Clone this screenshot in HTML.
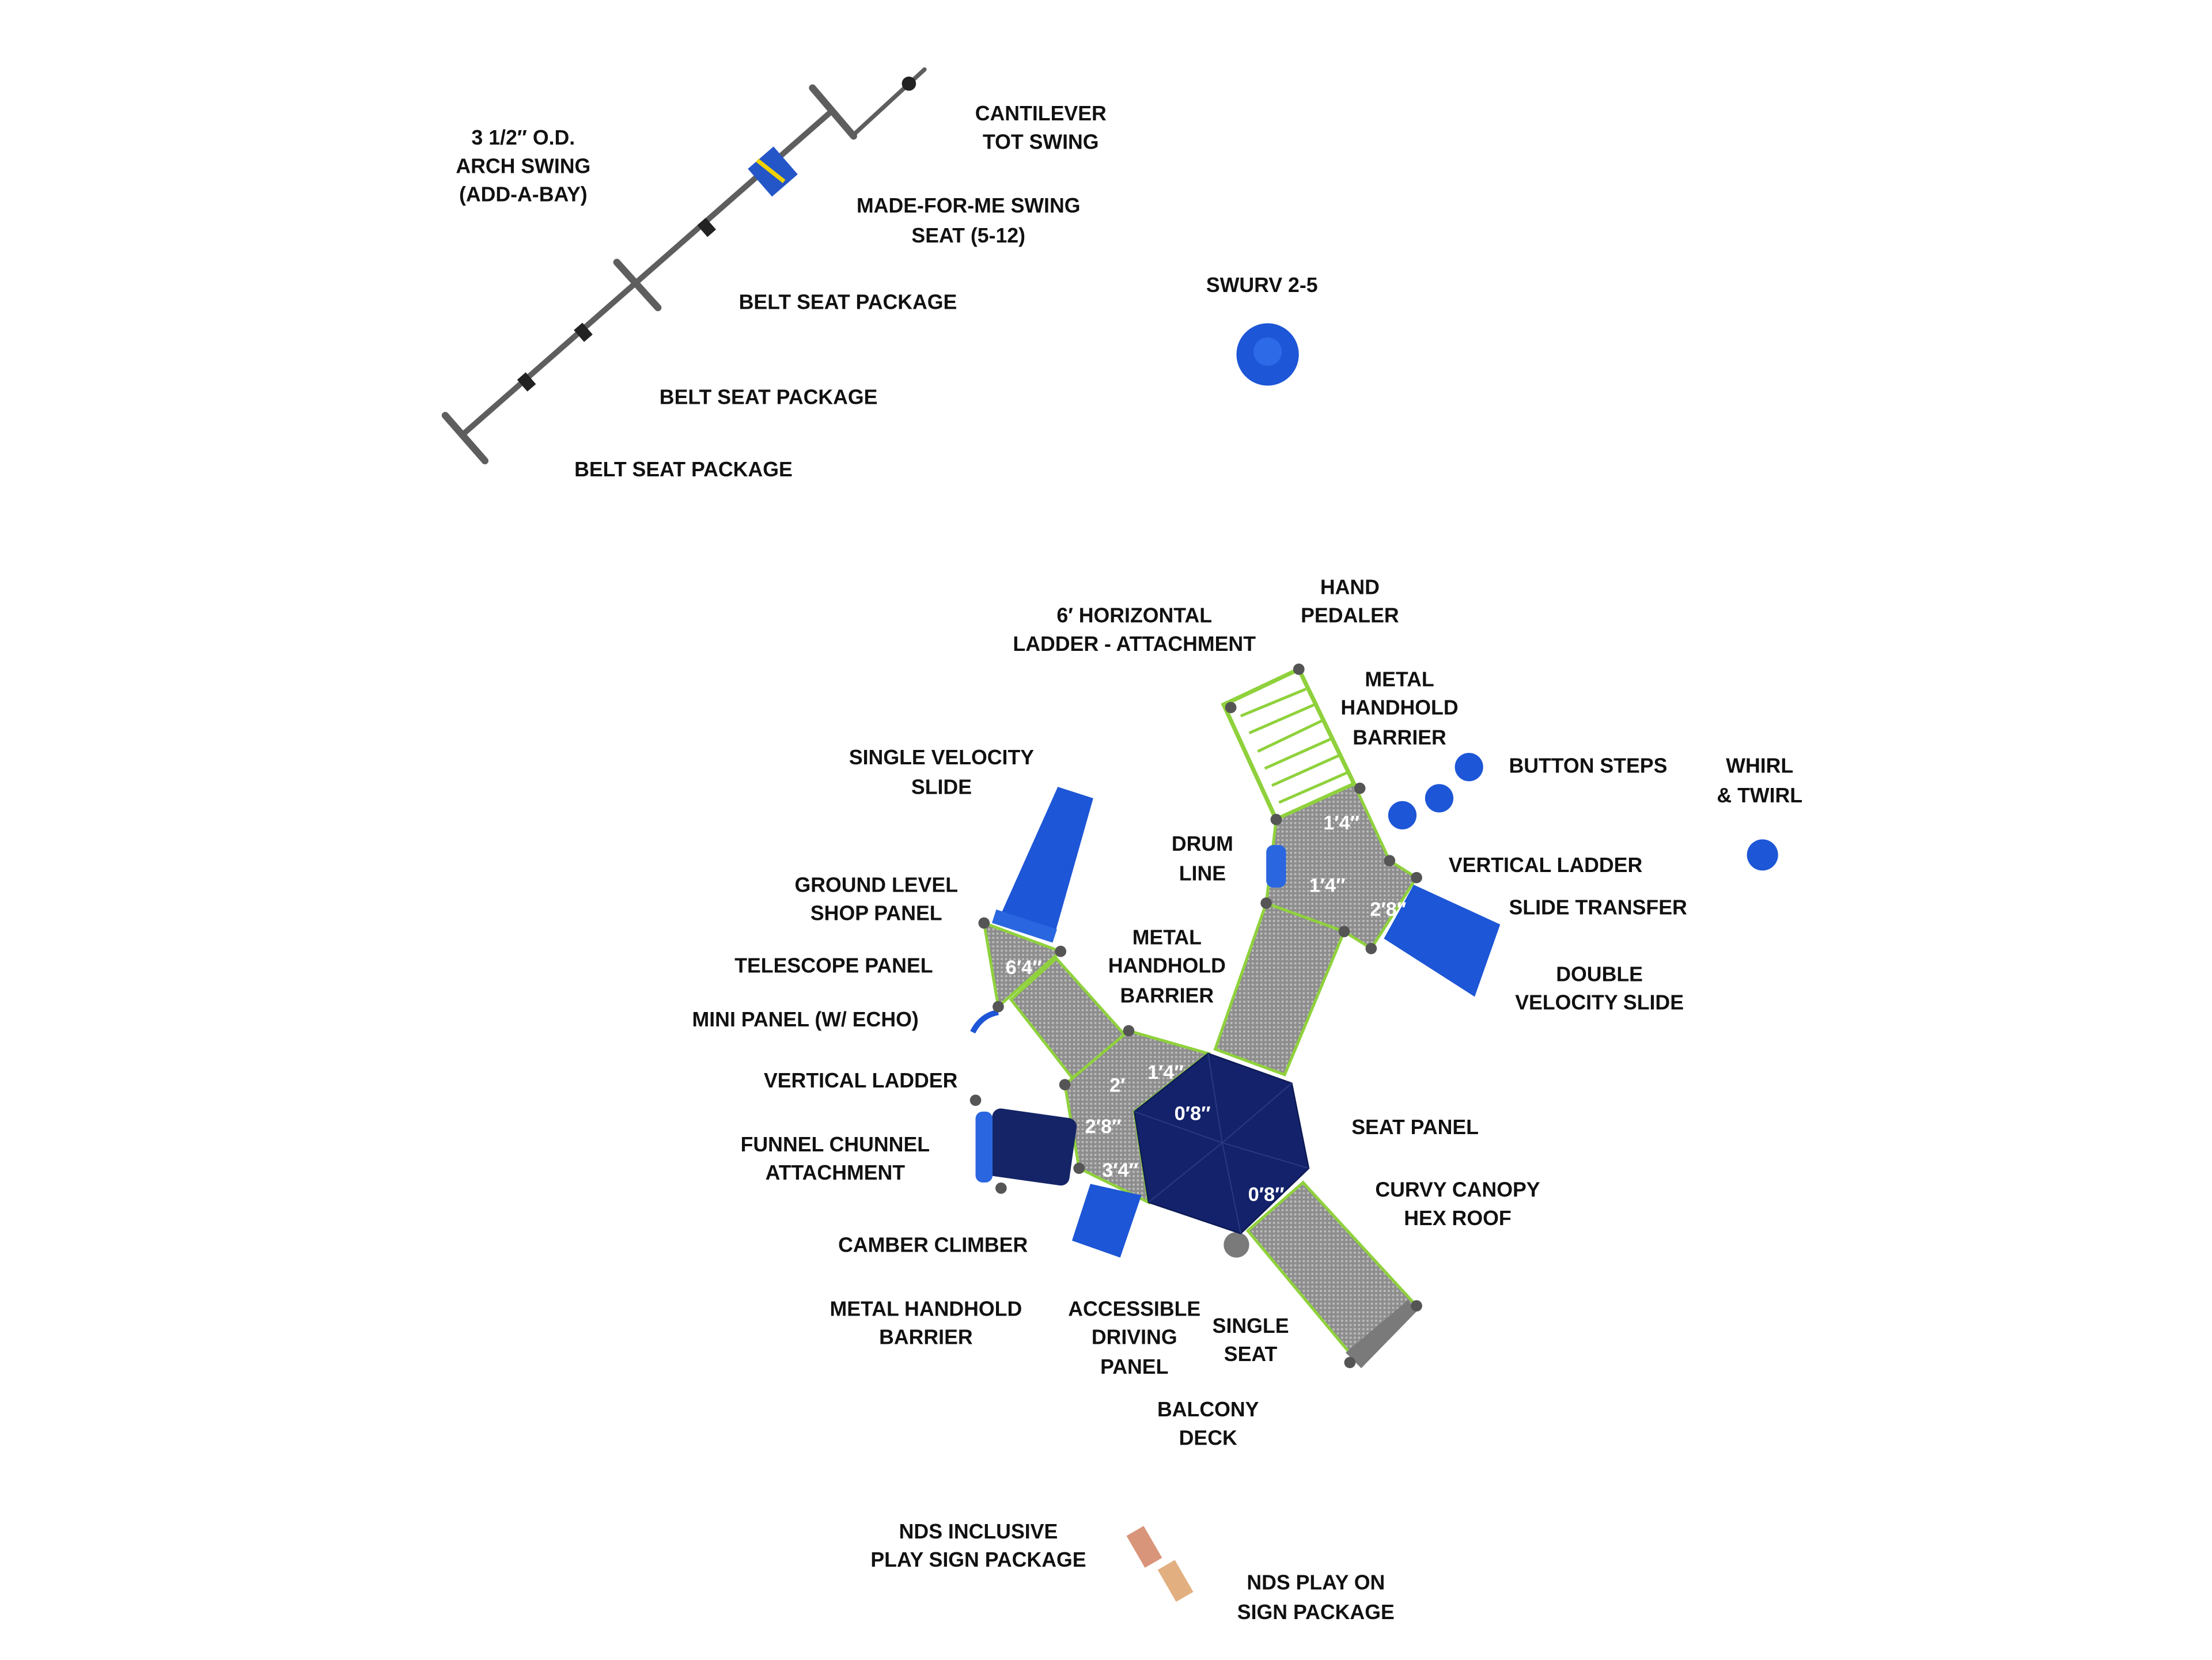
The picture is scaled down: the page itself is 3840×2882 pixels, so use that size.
<!DOCTYPE html>
<html><head><meta charset="utf-8"><style>
html,body{margin:0;padding:0;background:#fff;}
svg{display:block;}
text{font-family:"Liberation Sans",sans-serif;font-weight:bold;font-size:14.5px;fill:#111;text-anchor:middle;}
.w{fill:#fff;font-size:14px;}
</style></head><body>
<svg width="3840" height="2882" viewBox="0 0 1560 1170.8" preserveAspectRatio="none" xmlns="http://www.w3.org/2000/svg">
<defs>
<pattern id="mesh" width="3" height="3" patternUnits="userSpaceOnUse"><rect width="3" height="3" fill="#8d8d8d"/><circle cx="1.5" cy="1.5" r="0.8" fill="#bdbdbd"/></pattern>
</defs>
<!-- swing -->
<g stroke="#5e5e5e" stroke-linecap="round" fill="none">
<line x1="328" y1="305" x2="587" y2="78" stroke-width="4"/>
<line x1="314" y1="293" x2="342" y2="325" stroke-width="5"/>
<line x1="435" y1="185" x2="464" y2="217" stroke-width="5"/>
<line x1="573" y1="62" x2="602" y2="96" stroke-width="5"/>
<line x1="602" y1="95" x2="652" y2="49" stroke-width="3"/>
</g>
<circle cx="641" cy="59" r="5" fill="#222"/>
<g fill="#222"><rect x="367" y="264" width="8" height="11" transform="rotate(-41 371 269)"/><rect x="407" y="229" width="8" height="11" transform="rotate(-41 411 234)"/><rect x="494" y="155" width="8" height="11" transform="rotate(-41 498 160)"/></g>
<rect x="533" y="108" width="24" height="26" fill="#2456c8" transform="rotate(-41 545 121)"/>
<path d="M534 113 L553 128" stroke="#f1d000" stroke-width="3"/>
<!-- swurv, whirl, buttons -->
<circle cx="894" cy="250" r="22" fill="#1d56d6"/><circle cx="894" cy="248" r="10" fill="#2c6ae8"/>
<circle cx="1243" cy="603" r="11" fill="#1d56d6"/>
<circle cx="1036" cy="541" r="10" fill="#1d56d6"/><circle cx="1015" cy="563" r="10" fill="#1d56d6"/><circle cx="989" cy="575" r="10" fill="#1d56d6"/>
<!-- ladder -->
<polygon points="863,497 916,472 955,553 900,578" fill="none" stroke="#8fd13c" stroke-width="3"/>
<g stroke="#8fd13c" stroke-width="2"><line x1="875" y1="505" x2="921" y2="486"/><line x1="881" y1="517" x2="927" y2="497"/><line x1="887" y1="530" x2="933" y2="508"/><line x1="892" y1="542" x2="939" y2="521"/><line x1="897" y1="554" x2="944" y2="533"/><line x1="902" y1="566" x2="950" y2="545"/></g>
<!-- walkways -->
<polygon points="893,637 948,657 906,758 857,740" fill="url(#mesh)" stroke="#8fd13c" stroke-width="2"/>
<polygon points="919,834 999,921 955,958 880,868" fill="url(#mesh)" stroke="#8fd13c" stroke-width="2"/>
<polygon points="993,917 999,925 960,965 949,954" fill="#7a7a7a"/>
<polygon points="713,705 745,676 796,733 756,760" fill="url(#mesh)" stroke="#8fd13c" stroke-width="2"/>
<!-- decks -->
<polygon points="900,578 955,553 980,607 999,619 967,669 948,657 893,637" fill="url(#mesh)" stroke="#8fd13c" stroke-width="2"/>
<polygon points="694,651 748,671 704,710" fill="url(#mesh)" stroke="#8fd13c" stroke-width="2"/>
<polygon points="751,765 796,727 852,743 800,784 810,848 761,824" fill="url(#mesh)" stroke="#8fd13c" stroke-width="2"/>
<!-- slides -->
<polygon points="704,649 743,662 771,563 746,555" fill="#1d56d6"/>
<rect x="700" y="648" width="45" height="10" fill="#2a66e0" transform="rotate(18 722 653)"/>
<polygon points="976,662 997,624 1058,652 1040,703" fill="#1d56d6"/>
<rect x="697" y="785" width="60" height="48" rx="6" fill="#142466" transform="rotate(8 727 809)"/>
<rect x="688" y="784" width="12" height="50" rx="5" fill="#2a66e0"/>
<polygon points="756,875 769,835 805,843 790,887" fill="#1d56d6"/>
<path d="M686 728 Q692 716 704 714" stroke="#1d56d6" stroke-width="4" fill="none"/>
<rect x="893" y="596" width="14" height="30" rx="5" fill="#2a66e0"/>
<circle cx="872" cy="878" r="9" fill="#7a7a7a"/>
<!-- hex roof -->
<polygon points="852,743 911,764 923,824 875,870 810,848 800,784" fill="#13226a" stroke="#0e1a55"/>
<g stroke="#2a3a80" stroke-width="0.8"><line x1="862" y1="806" x2="852" y2="743"/><line x1="862" y1="806" x2="911" y2="764"/><line x1="862" y1="806" x2="923" y2="824"/><line x1="862" y1="806" x2="875" y2="870"/><line x1="862" y1="806" x2="810" y2="848"/><line x1="862" y1="806" x2="800" y2="784"/></g>
<!-- posts -->
<g fill="#555"><circle cx="868" cy="499" r="4"/><circle cx="916" cy="472" r="4"/><circle cx="959" cy="556" r="4"/><circle cx="900" cy="578" r="4"/><circle cx="980" cy="607" r="4"/><circle cx="999" cy="619" r="4"/><circle cx="967" cy="669" r="4"/><circle cx="948" cy="657" r="4"/><circle cx="893" cy="637" r="4"/><circle cx="694" cy="651" r="4"/><circle cx="748" cy="671" r="4"/><circle cx="704" cy="710" r="4"/><circle cx="796" cy="727" r="4"/><circle cx="751" cy="765" r="4"/><circle cx="761" cy="824" r="4"/><circle cx="999" cy="921" r="4"/><circle cx="952" cy="961" r="4"/><circle cx="688" cy="776" r="4"/><circle cx="706" cy="838" r="4"/></g>
<!-- signs -->
<rect x="800" y="1078" width="14" height="26" fill="#d9957a" transform="rotate(-30 807 1091)"/>
<rect x="822" y="1102" width="14" height="26" fill="#e2b080" transform="rotate(-30 829 1115)"/>
<!-- dimension labels -->
<text class="w" x="946" y="585">1′4″</text><text class="w" x="936" y="629">1′4″</text><text class="w" x="979" y="646">2′8″</text>
<text class="w" x="722" y="687">6′4″</text><text class="w" x="788" y="770">2′</text><text class="w" x="822" y="761">1′4″</text>
<text class="w" x="778" y="799">2′8″</text><text class="w" x="790" y="830">3′4″</text><text class="w" x="841" y="790">0′8″</text><text class="w" x="893" y="847">0′8″</text>
<!-- labels -->
<text x="369" y="102">3 1/2″ O.D.</text><text x="369" y="122">ARCH SWING</text><text x="369" y="142">(ADD-A-BAY)</text>
<text x="734" y="85">CANTILEVER</text><text x="734" y="105">TOT SWING</text>
<text x="683" y="150">MADE-FOR-ME SWING</text><text x="683" y="171">SEAT (5-12)</text>
<text x="598" y="218">BELT SEAT PACKAGE</text><text x="542" y="285">BELT SEAT PACKAGE</text><text x="482" y="336">BELT SEAT PACKAGE</text>
<text x="890" y="206">SWURV 2-5</text>
<text x="952" y="419">HAND</text><text x="952" y="439">PEDALER</text>
<text x="800" y="439">6′ HORIZONTAL</text><text x="800" y="459">LADDER - ATTACHMENT</text>
<text x="987" y="484">METAL</text><text x="987" y="504">HANDHOLD</text><text x="987" y="525">BARRIER</text>
<text x="1120" y="545">BUTTON STEPS</text>
<text x="1241" y="545">WHIRL</text><text x="1241" y="566">&amp; TWIRL</text>
<text x="664" y="539">SINGLE VELOCITY</text><text x="664" y="560">SLIDE</text>
<text x="848" y="600">DRUM</text><text x="848" y="621">LINE</text>
<text x="1090" y="615">VERTICAL LADDER</text><text x="1127" y="645">SLIDE TRANSFER</text>
<text x="618" y="629">GROUND LEVEL</text><text x="618" y="649">SHOP PANEL</text>
<text x="588" y="686">TELESCOPE PANEL</text>
<text x="823" y="666">METAL</text><text x="823" y="686">HANDHOLD</text><text x="823" y="707">BARRIER</text>
<text x="1128" y="692">DOUBLE</text><text x="1128" y="712">VELOCITY SLIDE</text>
<text x="568" y="724">MINI PANEL (W/ ECHO)</text>
<text x="607" y="767">VERTICAL LADDER</text>
<text x="998" y="800">SEAT PANEL</text>
<text x="589" y="812">FUNNEL CHUNNEL</text><text x="589" y="832">ATTACHMENT</text>
<text x="1028" y="844">CURVY CANOPY</text><text x="1028" y="864">HEX ROOF</text>
<text x="658" y="883">CAMBER CLIMBER</text>
<text x="653" y="928">METAL HANDHOLD</text><text x="653" y="948">BARRIER</text>
<text x="800" y="928">ACCESSIBLE</text><text x="800" y="948">DRIVING</text><text x="800" y="969">PANEL</text>
<text x="882" y="940">SINGLE</text><text x="882" y="960">SEAT</text>
<text x="852" y="999">BALCONY</text><text x="852" y="1019">DECK</text>
<text x="690" y="1085">NDS INCLUSIVE</text><text x="690" y="1105">PLAY SIGN PACKAGE</text>
<text x="928" y="1121">NDS PLAY ON</text><text x="928" y="1142">SIGN PACKAGE</text>
</svg>
</body></html>
